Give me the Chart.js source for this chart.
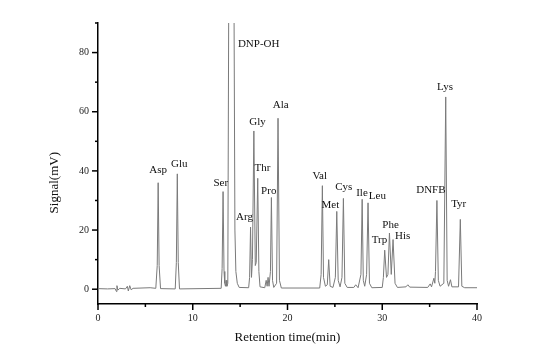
<!DOCTYPE html>
<html>
<head>
<meta charset="utf-8">
<script src="https://cdn.jsdelivr.net/npm/chart.js@4.4.1/dist/chart.umd.min.js"></script>
<style>
html,body{margin:0;padding:0;background:#fff;}
#wrap{width:554px;height:357px;position:relative;}
</style>
</head>
<body>
<div id="wrap"><canvas id="c" width="554" height="357"></canvas></div>
<script>
// Retention time (min)
const timeMin = [
0.0,1.0,1.8,1.95,2.0,2.1,2.3,2.9,3.1,3.2,3.35,3.5,3.7,5.5,
6.1,6.25,6.35,6.45,6.6,
8.15,8.27,8.37,8.47,8.6,
13.0,13.1,13.2,13.3,13.38,13.45,13.52,13.6,13.7,13.8,14.35,14.45,14.55,14.7,14.9,
15.9,16.0,16.1,16.2,16.3,16.45,16.6,16.7,16.86,16.98,17.1,
17.6,17.75,17.85,17.95,18.05,18.2,18.3,18.42,18.55,18.85,19.0,19.15,19.35,
23.4,23.55,23.68,23.8,24.0,24.2,24.35,24.5,24.8,
25.05,25.2,25.35,25.55,25.75,25.9,26.05,26.3,27.0,27.2,27.45,
27.75,27.88,28.0,28.15,28.35,28.5,28.65,28.9,
30.0,30.12,30.26,30.45,30.6,30.76,30.95,31.14,31.35,31.6,
32.5,32.7,32.9,34.8,35.06,35.2,35.45,35.55,35.62,35.77,35.92,36.1,
36.5,36.7,36.85,37.0,37.2,37.35,38.05,38.24,38.4,38.7,40.0
];
// Signal (mV)
const signalMV = [
0.2,0.1,0.2,-0.8,1.2,-0.3,0.3,0.1,1.0,-0.6,1.2,-0.2,0.3,0.5,
0.3,8,36,8,0.2,
0.1,9,39,9,0.1,
0.3,7,33,6,2,1,3,1,2,100,100,20,6,2,0.6,
0.5,4,21,4,10,53.5,8,9,37.5,6,0.8,
0.5,3,1,4,1,6,31,3,0.6,2,57.8,3,0.4,
0.4,5,35,4,1,1.5,10,1,0.6,
4,26.3,3,0.8,4,30.7,2,0.6,0.6,1.5,0.5,
5,30.4,3,1,5,29.2,2,0.5,
0.6,4,13.2,4,5,19,5,16.8,2,0.6,
0.8,1.5,0.7,0.6,1.8,0.8,3.7,2,6,30,3,1,
2,65,3,1,3.2,0.8,0.8,23.6,1,0.5,0.5
];
// Peak names and label anchors (data coordinates of text centre)
const peakNames = ["Asp","Glu","Ser","DNP-OH","Arg","Gly","Thr","Pro","Ala","Val","Met","Cys","Ile","Leu","Trp","Phe","His","DNFB","Lys","Tyr"];
const labelTime = [6.35,8.57,12.96,16.96,15.47,16.83,17.35,18.02,19.28,23.4,24.52,25.93,27.86,29.49,29.7,30.88,32.15,35.13,36.63,38.07];
const labelSignal = [40.1,42.2,35.8,83,24.4,56.4,41.1,33.2,62.1,38.4,28.6,34.5,32.5,31.5,16.5,21.7,17.9,33.6,68.2,28.9];
const xTicks = [0,10,20,30,40];
const yTicks = [0,20,40,60,80];

const points = timeMin.map((t,i)=>({x:t,y:signalMV[i]}));
const SERIF = "'Liberation Serif','Times New Roman',serif";

const decor = {
  id:'decor',
  afterDraw(chart){
    const ctx = chart.ctx, xs = chart.scales.x, ys = chart.scales.y;
    const ca = chart.chartArea;
    ctx.save();
    ctx.strokeStyle = '#000';
    ctx.lineWidth = 1.5;
    // x ticks
    for(let v=0; v<=40; v+=5){
      const px = xs.getPixelForValue(v);
      const len = (v%10===0)?6:3;
      ctx.beginPath(); ctx.moveTo(px, ca.bottom); ctx.lineTo(px, ca.bottom+len); ctx.stroke();
    }
    // y ticks
    for(let v=0; v<=90; v+=10){
      const py = ys.getPixelForValue(v);
      const len = (v%20===0)?6:3;
      ctx.beginPath(); ctx.moveTo(ca.left, py); ctx.lineTo(ca.left-len, py); ctx.stroke();
    }
    // peak labels
    ctx.fillStyle = '#111';
    ctx.font = "11px " + SERIF;
    ctx.textAlign = 'center';
    ctx.textBaseline = 'middle';
    peakNames.forEach((n,i)=>{
      ctx.fillText(n, xs.getPixelForValue(labelTime[i]), ys.getPixelForValue(labelSignal[i]));
    });
    // axis titles
    ctx.font = "13px " + SERIF;
    ctx.fillStyle = '#111';
    ctx.fillText('Retention time(min)', (ca.left+ca.right)/2, 338);
    ctx.translate(55, ys.getPixelForValue(36));
    ctx.rotate(-Math.PI/2);
    ctx.fillText('Signal(mV)', 0, 0);
    ctx.restore();
  }
};

new Chart(document.getElementById('c'), {
  type:'line',
  data:{datasets:[{
    data:points,
    borderColor:'#7a7a7a',
    borderWidth:1,
    pointRadius:0,
    tension:0,
    fill:false
  }]},
  options:{
    responsive:false,
    animation:false,
    events:[],
    layout:{padding:{left:0,right:77,top:23,bottom:0}},
    plugins:{legend:{display:false},tooltip:{enabled:false}},
    scales:{
      x:{
        type:'linear', min:0, max:40,
        afterBuildTicks(s){ s.ticks = xTicks.map(v=>({value:v})); },
        afterFit(s){ s.height = 53; },
        grid:{display:false, drawTicks:false},
        border:{display:true,color:'#000',width:1.5},
        ticks:{font:{family:SERIF,size:10},color:'#222',padding:8,maxRotation:0}
      },
      y:{
        type:'linear', min:-5, max:90,
        afterBuildTicks(s){ s.ticks = yTicks.map(v=>({value:v})); },
        afterFit(s){ s.width = 98; },
        grid:{display:false, drawTicks:false},
        border:{display:true,color:'#000',width:1.5},
        ticks:{font:{family:SERIF,size:10},color:'#222',padding:9}
      }
    }
  },
  plugins:[decor]
});
</script>
</body>
</html>
